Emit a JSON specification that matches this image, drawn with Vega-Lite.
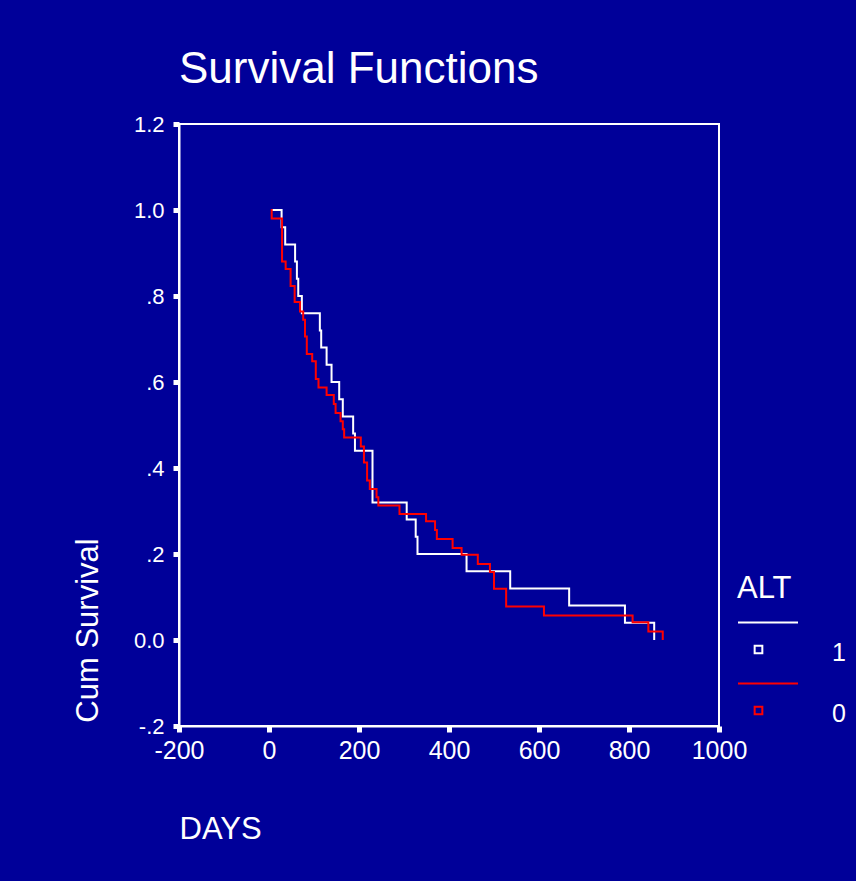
{
  "$schema": "https://vega.github.io/schema/vega-lite/v6.json",
  "width": 540,
  "height": 602,
  "autosize": "none",
  "padding": {"left": 179, "top": 124, "right": 137, "bottom": 155},
  "background": "#000099",
  "title": {
    "text": "Survival Functions",
    "anchor": "start",
    "frame": "group",
    "orient": "top",
    "font": "Liberation Sans",
    "fontSize": 44,
    "fontWeight": "normal",
    "color": "#ffffff",
    "baseline": "alphabetic",
    "offset": 40,
    "dy": 54
  },
  "config": {
    "view": {"stroke": "#ffffff", "strokeWidth": 2},
    "font": "Liberation Sans",
    "axis": {
      "domainColor": "#ffffff",
      "domainWidth": 2,
      "tickColor": "#ffffff",
      "tickWidth": 5,
      "tickSize": 6,
      "labelColor": "#ffffff",
      "labelFont": "Liberation Sans",
      "titleColor": "#ffffff",
      "titleFont": "Liberation Sans",
      "titleFontWeight": "normal",
      "grid": false
    }
  },
  "data": {
    "values": [
      {"ALT": "1", "DAYS": 6, "S": 1.0},
      {"ALT": "1", "DAYS": 28, "S": 0.96},
      {"ALT": "1", "DAYS": 36, "S": 0.92},
      {"ALT": "1", "DAYS": 58, "S": 0.88},
      {"ALT": "1", "DAYS": 62, "S": 0.84},
      {"ALT": "1", "DAYS": 65, "S": 0.80},
      {"ALT": "1", "DAYS": 73, "S": 0.76},
      {"ALT": "1", "DAYS": 113, "S": 0.72},
      {"ALT": "1", "DAYS": 116, "S": 0.68},
      {"ALT": "1", "DAYS": 128, "S": 0.64},
      {"ALT": "1", "DAYS": 139, "S": 0.60},
      {"ALT": "1", "DAYS": 156, "S": 0.56},
      {"ALT": "1", "DAYS": 164, "S": 0.52},
      {"ALT": "1", "DAYS": 187, "S": 0.48},
      {"ALT": "1", "DAYS": 191, "S": 0.44},
      {"ALT": "1", "DAYS": 230, "S": 0.32},
      {"ALT": "1", "DAYS": 306, "S": 0.28},
      {"ALT": "1", "DAYS": 326, "S": 0.24},
      {"ALT": "1", "DAYS": 330, "S": 0.20},
      {"ALT": "1", "DAYS": 439, "S": 0.16},
      {"ALT": "1", "DAYS": 536, "S": 0.12},
      {"ALT": "1", "DAYS": 667, "S": 0.08},
      {"ALT": "1", "DAYS": 791, "S": 0.04},
      {"ALT": "1", "DAYS": 856, "S": 0.0},
      {"ALT": "0", "DAYS": 4, "S": 1.0},
      {"ALT": "0", "DAYS": 6, "S": 0.98},
      {"ALT": "0", "DAYS": 29, "S": 0.88},
      {"ALT": "0", "DAYS": 37, "S": 0.863},
      {"ALT": "0", "DAYS": 48, "S": 0.823},
      {"ALT": "0", "DAYS": 57, "S": 0.786},
      {"ALT": "0", "DAYS": 69, "S": 0.764},
      {"ALT": "0", "DAYS": 76, "S": 0.745},
      {"ALT": "0", "DAYS": 80, "S": 0.706},
      {"ALT": "0", "DAYS": 84, "S": 0.665},
      {"ALT": "0", "DAYS": 96, "S": 0.648},
      {"ALT": "0", "DAYS": 104, "S": 0.607},
      {"ALT": "0", "DAYS": 110, "S": 0.587},
      {"ALT": "0", "DAYS": 128, "S": 0.57},
      {"ALT": "0", "DAYS": 144, "S": 0.549},
      {"ALT": "0", "DAYS": 148, "S": 0.528},
      {"ALT": "0", "DAYS": 159, "S": 0.509},
      {"ALT": "0", "DAYS": 164, "S": 0.49},
      {"ALT": "0", "DAYS": 167, "S": 0.471},
      {"ALT": "0", "DAYS": 204, "S": 0.45},
      {"ALT": "0", "DAYS": 211, "S": 0.413},
      {"ALT": "0", "DAYS": 218, "S": 0.371},
      {"ALT": "0", "DAYS": 224, "S": 0.351},
      {"ALT": "0", "DAYS": 239, "S": 0.332},
      {"ALT": "0", "DAYS": 243, "S": 0.313},
      {"ALT": "0", "DAYS": 290, "S": 0.293},
      {"ALT": "0", "DAYS": 349, "S": 0.276},
      {"ALT": "0", "DAYS": 369, "S": 0.256},
      {"ALT": "0", "DAYS": 373, "S": 0.235},
      {"ALT": "0", "DAYS": 408, "S": 0.214},
      {"ALT": "0", "DAYS": 428, "S": 0.198},
      {"ALT": "0", "DAYS": 464, "S": 0.177},
      {"ALT": "0", "DAYS": 491, "S": 0.158},
      {"ALT": "0", "DAYS": 500, "S": 0.119},
      {"ALT": "0", "DAYS": 527, "S": 0.078},
      {"ALT": "0", "DAYS": 611, "S": 0.057},
      {"ALT": "0", "DAYS": 808, "S": 0.041},
      {"ALT": "0", "DAYS": 843, "S": 0.02},
      {"ALT": "0", "DAYS": 875, "S": 0.0}
    ]
  },
  "mark": {"type": "line", "interpolate": "step-after", "strokeWidth": 2},
  "encoding": {
    "x": {
      "field": "DAYS",
      "type": "quantitative",
      "scale": {"domain": [-200, 1000], "nice": false, "zero": false},
      "axis": {
        "values": [-200, 0, 200, 400, 600, 800, 1000],
        "labelExpr": "datum.value < 0 ? '-200' : '' + datum.value",
        "labelFontSize": 25,
        "labelPadding": 6,
        "labelFlush": false,
        "labelOverlap": false,
        "title": "DAYS",
        "titleFontSize": 31,
        "titleAnchor": "start",
        "titleAlign": "left",
        "titleBaseline": "alphabetic",
        "titleX": 0,
        "titleY": 112
      }
    },
    "y": {
      "field": "S",
      "type": "quantitative",
      "scale": {"domain": [-0.2, 1.2], "nice": false, "zero": false},
      "axis": {
        "values": [-0.2, 0, 0.2, 0.4, 0.6, 0.8, 1.0, 1.2],
        "labelExpr": "datum.value > 1.1 ? '1.2' : datum.value > 0.9 ? '1.0' : datum.value > 0.7 ? '.8' : datum.value > 0.5 ? '.6' : datum.value > 0.3 ? '.4' : datum.value > 0.1 ? '.2' : datum.value > -0.1 ? '0.0' : '-.2'",
        "labelFontSize": 22,
        "labelPadding": 9,
        "labelFlush": false,
        "title": "Cum Survival",
        "titleFontSize": 31,
        "titleAngle": -90,
        "titleAlign": "center",
        "titleBaseline": "alphabetic",
        "titleX": -82,
        "titleY": 506
      }
    },
    "color": {
      "field": "ALT",
      "type": "nominal",
      "scale": {"domain": ["1", "0"], "range": ["#ffffff", "#ff0000"]},
      "legend": {
        "orient": "none",
        "legendX": 558,
        "legendY": 450,
        "title": "ALT",
        "titleFontSize": 31,
        "titleColor": "#ffffff",
        "titleFont": "Liberation Sans",
        "titleFontWeight": "normal",
        "titlePadding": 17,
        "labelColor": "#ffffff",
        "labelFont": "Liberation Sans",
        "labelFontSize": 25,
        "labelOffset": 33,
        "symbolType": "M-1,-1.02H1M-0.445,-0.245H-0.189V0.011H-0.445Z",
        "symbolSize": 3600,
        "symbolStrokeWidth": 2,
        "symbolFillColor": "transparent",
        "rowPadding": 13
      }
    }
  }
}
